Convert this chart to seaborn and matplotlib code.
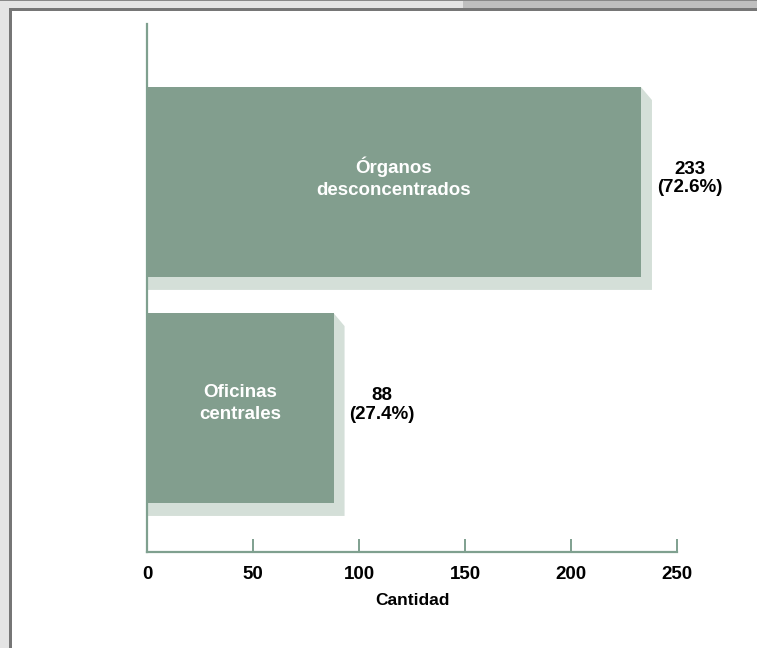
import matplotlib
matplotlib.use("Agg")
import matplotlib.pyplot as plt
import seaborn as sns
import pandas as pd
from matplotlib.patches import Polygon, Rectangle

# === Data ===
categories = ["Órganos\ndesconcentrados", "Oficinas\ncentrales"]
values = [233, 88]
percents = ["72.6%", "27.4%"]
x_ticks = [0, 50, 100, 150, 200, 250]

# === Style ===
bar_color = "#829e8e"
shadow_color = "#d4dfd8"
axis_color = "#7fa08f"

sns.set_theme(style="white")
plt.rcParams["font.family"] = ["Liberation Sans Narrow", "Liberation Sans", "DejaVu Sans"]
plt.rcParams["font.weight"] = "bold"
plt.rcParams["text.color"] = "black"
plt.rcParams["xtick.color"] = "black"
plt.rcParams["axes.labelcolor"] = "black"

df = pd.DataFrame({"grupo": categories, "cantidad": values})

fig = plt.figure(figsize=(7.57, 6.48), dpi=100, facecolor="#e4e4e4")

# frame around panel
fig.add_artist(Rectangle((0, 1 - 1 / 648), 1, 1 / 648, transform=fig.transFigure,
                         facecolor="#888888", edgecolor="none", zorder=0))
fig.add_artist(Rectangle((463 / 757, 1 - 8 / 648), 1, 7 / 648, transform=fig.transFigure,
                         facecolor="#bfbfbf", edgecolor="none", zorder=0))
fig.add_artist(Rectangle((9 / 757, 0), 1, 1 - 8 / 648, transform=fig.transFigure,
                         facecolor="#767676", edgecolor="none", zorder=0))
fig.add_artist(Rectangle((12 / 757, 0), 1, 1 - 11 / 648, transform=fig.transFigure,
                         facecolor="white", edgecolor="none", zorder=0))

ax = fig.add_axes([147 / 757, 1 - 552 / 648, 530 / 757, 528 / 648])
ax.set_facecolor("none")

sns.barplot(data=df, x="cantidad", y="grupo", orient="h", color=bar_color,
            saturation=1, width=0.84, linewidth=0, ax=ax, zorder=3)

ax.set_xlim(0, 250)
ax.set_ylim(1.637, -0.699)

# 3D-like shadow behind each bar
dx, dy = 5.19, 0.0575
for p in ax.patches:
    x0, y0 = p.get_x(), p.get_y()
    x1, y1 = x0 + p.get_width(), y0 + p.get_height()
    ytop, ybot = min(y0, y1), max(y0, y1)
    shadow = Polygon([(x0, ybot), (x0, ybot + dy), (x1 + dx, ybot + dy),
                      (x1 + dx, ytop + dy), (x1, ytop)],
                     closed=True, facecolor=shadow_color, edgecolor="none", zorder=2)
    ax.add_patch(shadow)

# labels inside and next to bars
for i, (cat, v, pct) in enumerate(zip(categories, values, percents)):
    ax.text(v / 2, i - 0.02, cat, color="white", ha="center", va="center",
            fontsize=13.5, fontweight="bold", linespacing=1.4, zorder=4)
    ax.annotate(f"{v}\n({pct})", xy=(v, i), xytext=(35, 2.5), textcoords="offset points",
                ha="center", va="center", fontsize=13.5, fontweight="bold",
                color="black", linespacing=1.15)

ax.set_xticks(x_ticks)
ax.set_yticks([])
ax.set_xlabel("Cantidad", fontsize=12.5, fontweight="bold", labelpad=7)
ax.set_ylabel("")

for side in ["top", "right"]:
    ax.spines[side].set_visible(False)
for side in ["left", "bottom"]:
    ax.spines[side].set_color(axis_color)
    ax.spines[side].set_linewidth(1.6)

ax.tick_params(axis="x", direction="in", length=9.5, width=1.4, color=axis_color,
               labelcolor="black", labelsize=13.5, pad=10, bottom=True)
for t in ax.get_xticklabels():
    t.set_fontweight("bold")

plt.savefig("out.png", dpi=100, facecolor=fig.get_facecolor())
plt.close()
